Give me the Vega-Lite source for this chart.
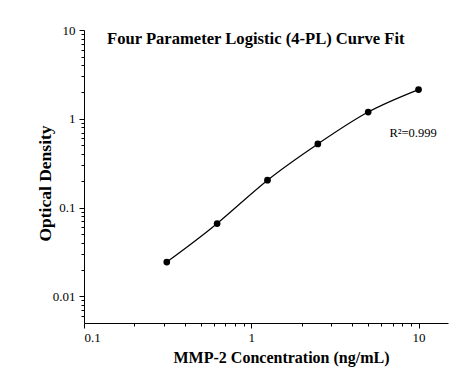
{
  "$schema": "https://vega.github.io/schema/vega-lite/v6.json",
  "autosize": "none",
  "width": 364,
  "height": 293,
  "padding": {"left": 84, "top": 30, "right": 16, "bottom": 61},
  "background": "white",
  "config": {
    "view": {"stroke": null},
    "axis": {"labelFont": "Liberation Serif", "titleFont": "Liberation Serif", "labelColor": "black", "titleColor": "black", "domainColor": "black", "tickColor": "black", "grid": false}
  },
  "title": {"text": "Four Parameter Logistic (4-PL) Curve Fit", "anchor": "start", "frame": "group", "dx": 23, "offset": -24, "font": "Liberation Serif", "fontSize": 16.6, "fontWeight": "bold", "color": "black"},
  "data": {"values": [
    {"conc": 0.3125, "od": 0.0243},
    {"conc": 0.625, "od": 0.066},
    {"conc": 1.25, "od": 0.203},
    {"conc": 2.5, "od": 0.52},
    {"conc": 5, "od": 1.19},
    {"conc": 10, "od": 2.13}
  ]},
  "layer": [
    {
      "mark": {"type": "line", "color": "black", "strokeWidth": 1.2, "interpolate": "natural"},
      "encoding": {
        "x": {"field": "conc", "type": "quantitative", "scale": {"type": "log", "domain": [0.1, 15], "nice": false},
          "axis": {"orient": "bottom", "values": [0.1, 1, 10], "format": "~g", "labelFontSize": 13, "tickSize": 5, "labelPadding": 3, "title": "MMP-2 Concentration (ng/mL)", "titleFontSize": 16, "titleFontWeight": "bold", "titlePadding": 5, "titleX": 197, "titleAlign": "center"}},
        "y": {"field": "od", "type": "quantitative", "scale": {"type": "log", "domain": [0.005, 10], "nice": false},
          "axis": {"orient": "left", "values": [0.01, 0.1, 1, 10], "format": "~g", "labelFontSize": 13, "tickSize": 5, "labelPadding": 4, "title": "Optical Density", "titleFontSize": 17.5, "titleFontWeight": "bold", "titlePadding": -2, "titleY": 153, "titleAlign": "center"}}
      }
    },
    {
      "mark": {"type": "point", "filled": true, "color": "black", "size": 45, "opacity": 1},
      "encoding": {
        "x": {"field": "conc", "type": "quantitative",
          "axis": {"orient": "bottom", "values": [0.2, 0.3, 0.4, 0.5, 0.6, 0.7, 0.8, 0.9, 2, 3, 4, 5, 6, 7, 8, 9], "labels": false, "tickSize": 3, "domain": false, "title": null}},
        "y": {"field": "od", "type": "quantitative",
          "axis": {"orient": "left", "values": [0.006, 0.007, 0.008, 0.009, 0.02, 0.03, 0.04, 0.05, 0.06, 0.07, 0.08, 0.09, 0.2, 0.3, 0.4, 0.5, 0.6, 0.7, 0.8, 0.9, 2, 3, 4, 5, 6, 7, 8, 9], "labels": false, "tickSize": 3, "domain": false, "title": null}}
      }
    },
    {
      "data": {"values": [{"conc": 6.7, "od": 0.69, "label": "R²=0.999"}]},
      "mark": {"type": "text", "align": "left", "baseline": "middle", "font": "Liberation Serif", "fontSize": 12.5, "color": "black"},
      "encoding": {
        "x": {"field": "conc", "type": "quantitative", "axis": null},
        "y": {"field": "od", "type": "quantitative", "axis": null},
        "text": {"field": "label"}
      }
    }
  ],
  "resolve": {"axis": {"x": "independent", "y": "independent"}}
}
